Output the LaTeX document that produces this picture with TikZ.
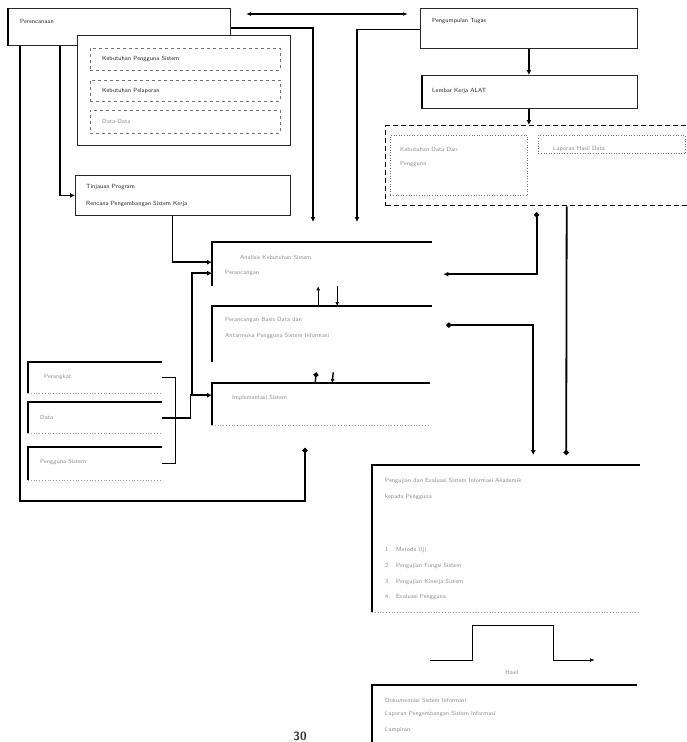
\documentclass[tikz,border=0pt]{standalone}
\usetikzlibrary{arrows.meta}
\begin{document}
\begin{tikzpicture}[x=1pt,y=-1pt,
  every node/.style={font=\sffamily\fontsize{6}{7}\selectfont, inner sep=0pt},
  frame/.style={draw=black!85, line width=0.8pt, fill=white, anchor=north west},
  ghost/.style={anchor=north west},
  lbl/.style={anchor=west, text=black!85},
  faint/.style={anchor=west, text=black!45},
  conn/.style={line width=1.8pt, -{Latex[length=5pt,width=5pt]}},
  dotconn/.style={line width=1.8pt, -{Circle[length=5pt]}},
  wire/.style={line width=1.4pt},
  sub/.style={draw=black!55, dashed, line width=0.6pt, anchor=north west},
  dotline/.style={draw=black!40, dotted, line width=0.8pt},
]
\useasboundingbox (0,0) rectangle (687,742);

% ---------- top left ----------
\node[frame, minimum width=222pt, minimum height=37pt] (perenc) at (8,8) {};
\draw[line width=1.6pt] (perenc.north west) -- (perenc.south west);
\node[lbl] (tperenc) at (20,21) {Perencanaan};

\node[frame, minimum width=213pt, minimum height=110pt] (grp) at (77,35) {};
\node[sub, minimum width=190pt, minimum height=22pt] (k1) at (90,48) {};
\node[sub, minimum width=190pt, minimum height=21pt] (k2) at (90,80) {};
\node[sub, minimum width=190pt, minimum height=23pt] (k3) at (90,110) {};
\node[lbl] (tk1) at ([xshift=12pt]k1.west) {Kebutuhan Pengguna Sistem};
\node[lbl] (tk2) at ([xshift=12pt]k2.west) {Kebutuhan Pelaporan};
\node[faint] (tk3) at ([xshift=12pt]k3.west) {Data-Data};

\node[frame, minimum width=215pt, minimum height=40pt] (tinjau) at (75,175) {};
\node[lbl] (tt1) at (86,187) {Tinjauan Program};
\node[lbl] (tt2) at (86,204) {Rencana Pengembangan Sistem Kerja};

% ---------- top right ----------
\node[frame, minimum width=217pt, minimum height=40pt] (tugas) at (420,8) {};
\node[lbl] (ttugas) at (432,21) {Pengumpulan Tugas};

\node[frame, minimum width=215pt, minimum height=33pt] (lab) at (422,75) {};
\draw[line width=1.6pt] (lab.north west) -- (lab.south west);
\node[lbl] (tlab) at (432,91) {Lembar Kerja ALAT};

\node[draw, line width=1.4pt, dash pattern=on 5pt off 3pt, anchor=north west,
      minimum width=302pt, minimum height=80pt] (dbox) at (385,125) {};
\node[sub, dotted, minimum width=137pt, minimum height=60pt] (d1) at (390,135) {};
\node[sub, dotted, minimum width=147pt, minimum height=18pt] (d2) at (538,135) {};
\node[faint] (td1) at (400,149) {Kebutuhan Data Dan};
\node[faint] (td1b) at (400,164) {Pengguna};
\node[faint] (td2) at (553,149) {Laporan Hasil Data};

% ---------- middle column (open boxes) ----------
\node[ghost, minimum width=220pt, minimum height=44pt] (A) at (212,242) {};
\draw[wire] (A.south west) -- (A.north west) -- (A.north east);
\node[faint] (ta1) at (240,257) {Analisis Kebutuhan Sistem};
\node[faint] (ta2) at (225,273) {Perancangan};

\node[ghost, minimum width=220pt, minimum height=56pt] (B) at (212,306) {};
\draw[wire] (B.south west) -- (B.north west) -- (B.north east);
\node[faint] (tb1) at (225,320) {Perancangan Basis Data dan};
\node[faint] (tb2) at (225,336) {Antarmuka Pengguna Sistem Informasi};

\node[ghost, minimum width=218pt, minimum height=42pt] (C) at (212,383) {};
\draw[wire] (C.south west) -- (C.north west) -- (C.north east);
\draw[dotline] (C.south west) -- (C.south east);
\node[faint] (tc1) at (232,398) {Implementasi Sistem};

% ---------- left boxes ----------
\node[ghost, minimum width=134pt, minimum height=31pt] (L1) at (28,362) {};
\node[ghost, minimum width=134pt, minimum height=31pt] (L2) at (28,402) {};
\node[ghost, minimum width=134pt, minimum height=33pt] (L3) at (28,447) {};
\foreach \b in {L1,L2,L3}{
  \draw[wire] (\b.south west) -- (\b.north west) -- (\b.north east);
  \draw[dotline] (\b.south west) -- (\b.south east);
}
\node[faint] (tl1) at (44,377) {Perangkat};
\node[faint] (tl2) at (40,417) {Data};
\node[faint] (tl3) at (40,462) {Pengguna Sistem};

% ---------- bottom right ----------
\node[ghost, minimum width=268pt, minimum height=147pt] (E) at (372,465) {};
\draw[wire] (E.south west) -- (E.north west) -- (E.north east);
\draw[dotline] (E.south west) -- (E.south east);
\node[faint] (te1) at (385,481) {Pengujian dan Evaluasi Sistem Informasi Akademik};
\node[faint] (te2) at (385,497) {kepada Pengguna};
\node[faint] (te3) at (385,550) {1.\quad Metode Uji};
\node[faint] (te4) at (385,566) {2.\quad Pengujian Fungsi Sistem};
\node[faint] (te5) at (385,582) {3.\quad Pengujian Kinerja Sistem};
\node[faint] (te6) at (385,597) {4.\quad Evaluasi Pengguna};

\coordinate (p0) at (430,660);
\draw[line width=1pt, -{Latex[length=5pt]}] (p0) -- ++(42,0) -- ++(0,-35) -- ++(81,0) -- ++(0,35) -- ++(42,0);
\node[faint, anchor=center] (thasil) at (512,672) {Hasil};

\node[ghost, minimum width=265pt, minimum height=60pt] (F) at (372,685) {};
\draw[wire] (F.south west) -- (F.north west) -- (F.north east);
\node[faint] (tf1) at (385,700) {Dokumentasi Sistem Informasi};
\node[faint] (tf2) at (385,714) {Laporan Pengembangan Sistem Informasi};
\node[faint] (tf3) at (385,730) {Lampiran};

\node[anchor=south, font=\sffamily\bfseries\large, text=black!80] (pg) at (300,741) {30};

% ---------- connectors ----------
\draw[line width=1.5pt, {Latex[length=5pt]}-{Latex[length=5pt]}]
  ([xshift=15pt,yshift=-6pt]perenc.north east) -- ([xshift=-12pt,yshift=-6pt]tugas.north west);
\coordinate (a1) at (313,222);
\coordinate (a2) at (357,222);
\draw[conn] ([yshift=-1pt]perenc.east) -| (a1);
\draw[conn] ([yshift=-1pt]tugas.west) -| (a2);
\draw[conn] (tugas.south) -- (tugas.south |- lab.north);
\draw[conn] (tugas.south |- lab.south) -- (tugas.south |- dbox.north);

\draw[conn] ([xshift=52pt]perenc.south west) |- (tinjau.west);
\coordinate (c1) at (305,448);
\draw[dotconn] ([xshift=12pt]perenc.south west) -- ++(0,455) -| (c1);
\draw[conn] ([xshift=-10.5pt]tinjau.south) |- ([yshift=2pt]A.west);

\draw[wire] (L1.east) -- ++(13,0) |- (L3.east);
\draw[conn] (L2.east) -- ++(28,0) |- ([yshift=9pt]C.west);
\draw[conn] ([xshift=-20pt,yshift=9pt]C.west) |- ([yshift=-9pt]A.west);

\draw[line width=1.4pt, -{Latex[length=4pt,width=4pt]}] ([xshift=-4pt]B.north) -- ([xshift=-4pt]A.south);
\draw[line width=1.4pt, -{Latex[length=4pt,width=4pt]}] ([xshift=15pt]A.south) -- ([xshift=15pt]B.north);
\draw[line width=1.4pt, -{Circle[length=5pt]}] ([xshift=-6pt]C.north) -- ([xshift=-6pt,yshift=-10pt]B.south);
\draw[line width=1.4pt, -{Latex[length=4pt,width=4pt]}] ([xshift=11pt,yshift=-10pt]B.south) -- ([xshift=11pt]C.north);

\draw[line width=1.8pt, {Circle[length=5pt]}-{Latex[length=5pt,width=5pt]}]
  ([yshift=-6pt]dbox.south) |- ([xshift=11pt,yshift=-10pt]A.east);
\draw[dotconn] ([xshift=30pt]dbox.south) -- ([xshift=60pt,yshift=10pt]E.north);
\draw[line width=1.8pt, {Circle[length=5pt]}-{Latex[length=5pt,width=5pt]}]
  ([xshift=14pt,yshift=9pt]B.east) -| ([xshift=27pt,yshift=10pt]E.north);
\end{tikzpicture}
\end{document}
